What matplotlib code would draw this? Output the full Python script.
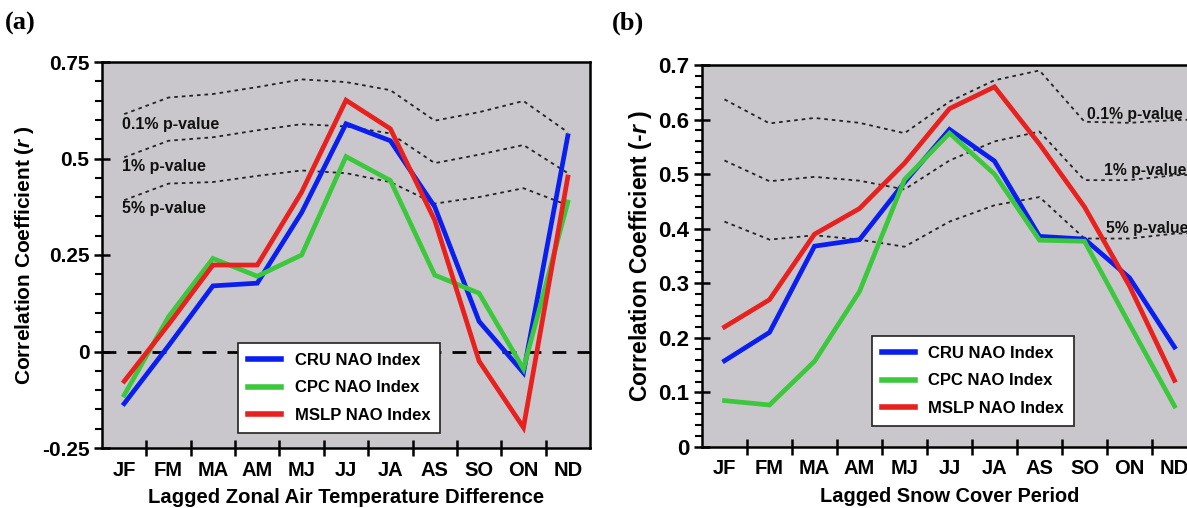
import matplotlib.pyplot as plt
from matplotlib.ticker import MultipleLocator

plt.rcParams['font.family'] = ['Liberation Sans', 'DejaVu Sans']
plt.rcParams['font.weight'] = 'bold'
plt.rcParams['mathtext.fontset'] = 'custom'
plt.rcParams['mathtext.it'] = 'Liberation Sans:bold:italic'
plt.rcParams['mathtext.rm'] = 'Liberation Sans:bold'

# -------------------------------------------------------
#                         DATA
# -------------------------------------------------------

periods = ['JF', 'FM', 'MA', 'AM', 'MJ', 'JJ', 'JA', 'AS', 'SO', 'ON', 'ND']

# (a) lagged zonal air temperature difference
cru_a = [-0.135, 0.015, 0.17, 0.177, 0.36, 0.59, 0.546, 0.375, 0.078, -0.055, 0.559]
cpc_a = [-0.113, 0.09, 0.241, 0.195, 0.25, 0.505, 0.443, 0.198, 0.151, -0.045, 0.387]
mslp_a = [-0.077, 0.07, 0.224, 0.224, 0.413, 0.651, 0.577, 0.34, -0.025, -0.197, 0.452]
p01_a = [0.615, 0.658, 0.667, 0.685, 0.705, 0.698, 0.677, 0.598, 0.62, 0.649, 0.568]
p1_a = [0.503, 0.546, 0.555, 0.573, 0.589, 0.583, 0.565, 0.488, 0.51, 0.535, 0.462]
p5_a = [0.392, 0.435, 0.439, 0.455, 0.469, 0.462, 0.439, 0.383, 0.40, 0.423, 0.379]

# (b) lagged snow cover period
cru_b = [0.158, 0.21, 0.368, 0.38, 0.485, 0.582, 0.524, 0.386, 0.381, 0.31, 0.183]
cpc_b = [0.085, 0.077, 0.157, 0.285, 0.49, 0.575, 0.50, 0.379, 0.377, 0.225, 0.075]
mslp_b = [0.22, 0.27, 0.39, 0.437, 0.52, 0.62, 0.66, 0.555, 0.44, 0.295, 0.122]
p01_b = [0.637, 0.593, 0.603, 0.594, 0.575, 0.633, 0.672, 0.69, 0.596, 0.594, 0.599]
p1_b = [0.525, 0.487, 0.495, 0.488, 0.472, 0.525, 0.56, 0.578, 0.489, 0.489, 0.498]
p5_b = [0.413, 0.38, 0.388, 0.38, 0.367, 0.413, 0.443, 0.458, 0.382, 0.382, 0.391]

series_names = ['CRU NAO Index', 'CPC NAO Index', 'MSLP NAO Index']
colors = ['#0a1ef0', '#3cc83c', '#e8201e']

# ............................................................

fig = plt.figure(figsize=(11.87, 5.08), dpi=100)
ax1 = fig.add_axes([102 / 1187, 60 / 508, 488 / 1187, 386 / 508])
ax2 = fig.add_axes([702 / 1187, 61 / 508, 495 / 1187, 382 / 508])

x = list(range(len(periods)))
bg = '#c9c7cc'


def style_axis(ax, ymin, ymax, major, minor, xlabel, ylabel,
               tick_fs, xtick_fs, xlabel_fs, ylabel_fs, ypad):
    ax.set_facecolor(bg)
    ax.set_xlim(-0.5, len(periods) - 0.5)
    ax.set_ylim(ymin, ymax)
    ax.set_xticks([i + 0.5 for i in range(len(periods) - 1)])
    ax.set_xticklabels([])
    ax.set_xticks(x, minor=True)
    ax.set_xticklabels(periods, minor=True, fontsize=xtick_fs, fontweight='bold')
    ax.tick_params(axis='x', which='major', direction='inout', length=12, width=1.8)
    ax.tick_params(axis='x', which='minor', length=0, pad=9)
    ax.yaxis.set_major_locator(MultipleLocator(major))
    ax.yaxis.set_minor_locator(MultipleLocator(minor))
    ax.yaxis.set_major_formatter(plt.FuncFormatter(lambda v, p: f'{v:g}'))
    ax.tick_params(axis='y', which='major', direction='inout', length=12, width=1.8,
                   labelsize=tick_fs, pad=3)
    ax.tick_params(axis='y', which='minor', direction='out', length=5, width=1.5)
    for s in ax.spines.values():
        s.set_linewidth(1.8)
    ax.set_xlabel(xlabel, fontsize=xlabel_fs, fontweight='bold', labelpad=6)
    ax.set_ylabel(ylabel, fontsize=ylabel_fs, fontweight='bold', labelpad=ypad)


style_axis(ax1, -0.25, 0.75, 0.25, 0.05,
           'Lagged Zonal Air Temperature Difference',
           'Correlation Coefficient ($\\it{r}$ )',
           15, 14.5, 14.6, 15, 4)

style_axis(ax2, 0, 0.7, 0.1, 0.02,
           'Lagged Snow Cover Period',
           'Correlation Coefficient (-$\\it{r}$ )',
           16, 14.5, 14.4, 16.5, 3)

# significance levels
for sig in (p01_a, p1_a, p5_a):
    ax1.plot(x, sig, color='#222222', lw=1.3, linestyle=(0, (2, 2.2)))
for sig in (p01_b, p1_b, p5_b):
    ax2.plot(x + [11.5], sig + [sig[-1] + 0.003], color='#222222', lw=1.3, linestyle=(0, (2, 2.2)))

ax1.axhline(0, color='black', lw=2, linestyle=(0, (5, 4)))

for ax, data in ((ax1, (cru_a, cpc_a, mslp_a)), (ax2, (cru_b, cpc_b, mslp_b))):
    for vals, name, c in zip(data, series_names, colors):
        ax.plot(x, vals, color=c, lw=3.4, label=name, solid_joinstyle='miter')

# labels for significance lines
for txt, yy in (('0.1% p-value', 0.588), ('1% p-value', 0.48), ('5% p-value', 0.37)):
    ax1.text(-0.05, yy, txt, fontsize=11.5, fontweight='bold', color='#111111', va='center')
for txt, xx, yy in (('0.1% p-value', 8.06, 0.61), ('1% p-value', 8.44, 0.506), ('5% p-value', 8.48, 0.401)):
    ax2.text(xx, yy, txt, fontsize=11.3, fontweight='bold', color='#111111', va='center')

leg_kw = dict(loc='lower left', frameon=True, fancybox=False,
              edgecolor='#222222', facecolor='white', framealpha=1,
              handlelength=2.0, handletextpad=0.8, labelspacing=0.75,
              borderpad=0.6, borderaxespad=0, prop={'weight': 'bold', 'size': 12})
leg1 = ax1.legend(bbox_to_anchor=(0.279, 0.039), **leg_kw)
leg2 = ax2.legend(bbox_to_anchor=(0.343, 0.055), **leg_kw)
for leg in (leg1, leg2):
    leg.get_frame().set_linewidth(1.2)
    for h in leg.get_lines():
        h.set_linewidth(4)

fig.text(5 / 1187, 1 - 23 / 508, '(a)', fontsize=19, fontweight='bold',
         family='Liberation Serif', va='center', ha='left')
fig.text(612 / 1187, 1 - 23 / 508, '(b)', fontsize=19, fontweight='bold',
         family='Liberation Serif', va='center', ha='left')

fig.savefig('out.png', dpi=100)
